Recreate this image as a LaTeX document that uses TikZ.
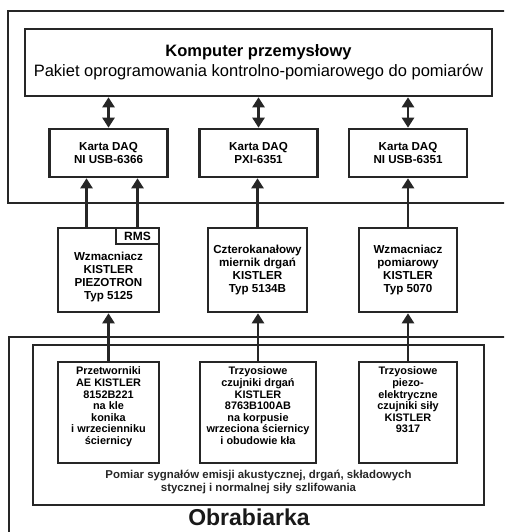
\documentclass[tikz,border=0pt]{standalone}
\usepackage{fontspec}
\setmainfont{Liberation Sans}
\usetikzlibrary{arrows.meta,calc}
\tikzset{
	ramka/.style={draw=black!85, line width=2.6pt},
	blok/.style={ramka, align=center, inner sep=0pt,
		font=\bfseries\fontsize{11.6}{12.9}\selectfont},
	strzalka/.style={draw=black!85, line width=2.4pt, -{Triangle[width=12pt,length=10pt]}},
	dwustronna/.style={draw=black!85, line width=2.4pt,
		{Triangle[width=12pt,length=10pt]}-{Triangle[width=12pt,length=10pt]}}
}
\def\Blok#1#2#3#4#5#6{%
	\node[blok, minimum width=#4, minimum height=#5] (#1) at (#2,#3) {#6};
}
\def\Czujnik#1#2#3#4{%
	\node[blok, minimum height=101pt, font=\bfseries\fontsize{10.9}{11.6}\selectfont]
		(#1) at (#2,412.5) {\parbox[c][91pt][t]{#3}{\centering #4}};
}
\begin{document}
\begin{tikzpicture}[x=1pt,y=-1pt]
\useasboundingbox (0,0) rectangle (504,532);
\clip (0,0) rectangle (504,532);
\draw[ramka] (8,11) rectangle (520,203);
\draw[ramka] (9,337) rectangle (520,550);
\draw[ramka, line width=2pt] (33,345) rectangle (484,505);

\node[ramka, minimum width=467pt, minimum height=67pt, align=center,
	font=\fontsize{16.5}{20}\selectfont] (komp) at (258.5,62.5)
	{\textbf{Komputer przemysłowy}\\Pakiet oprogramowania kontrolno-pomiarowego do pomiarów};

\Blok{daqA}{108.5}{153}{118pt}{48pt}{Karta DAQ\\NI USB-6366}
\Blok{daqB}{258.5}{153}{118pt}{48pt}{Karta DAQ\\PXI-6351}
\Blok{daqC}{408}{153}{118pt}{48pt}{Karta DAQ\\NI USB-6351}

\Blok{wzmA}{108.5}{270}{101pt}{84pt}{\rule{0pt}{22pt}Wzmacniacz\\KISTLER\\PIEZOTRON\\Typ 5125}
\Blok{wzmB}{257.5}{270}{99pt}{84pt}{Czterokanałowy\\miernik drgań\\KISTLER\\Typ 5134B}
\Blok{wzmC}{408}{270}{98pt}{84pt}{Wzmacniacz\\pomiarowy\\KISTLER\\Typ 5070}
\node[blok, fill=white, minimum width=43pt, minimum height=16pt, anchor=north east,
	font=\bfseries\fontsize{12}{12}\selectfont] (rms) at (wzmA.north east) {RMS};

\Czujnik{czA}{108.5}{101pt}{Przetworniki\\AE KISTLER\\8152B221\\na kle\\konika\\i wrzecienniku\\ściernicy}
\Czujnik{czB}{258}{116pt}{Trzyosiowe\\czujniki drgań\\KISTLER\\8763B100AB\\na korpusie\\wrzeciona ściernicy\\i obudowie kła}
\Czujnik{czC}{408}{98pt}{Trzyosiowe\\piezo-\\elektryczne\\czujniki siły\\KISTLER\\9317}

\node[align=center, text=black!85, font=\bfseries\fontsize{11.4}{12.2}\selectfont] (opis) at (258.5,482)
	{Pomiar sygnałów emisji akustycznej, drgań, składowych\\stycznej i normalnej siły szlifowania};
\node[text=black!90, font=\bfseries\fontsize{23}{26}\selectfont] (obr) at (249,517) {Obrabiarka};

\draw[dwustronna] (komp.south -| daqA.north) -- (daqA.north);
\draw[dwustronna] (komp.south -| daqB.north) -- (daqB.north);
\draw[dwustronna] (komp.south -| daqC.north) -- (daqC.north);

\draw[strzalka] ($(wzmA.north)+(-22,0)$) -- ($(daqA.south)+(-22,0)$);
\draw[strzalka] (rms.north) -- (rms.north |- daqA.south);
\draw[strzalka] (wzmB.north) -- (wzmB.north |- daqB.south);
\draw[strzalka] (wzmC.north) -- (wzmC.north |- daqC.south);

\draw[strzalka] (czA.north) -- (czA.north |- wzmA.south);
\draw[strzalka] (czB.north) -- (czB.north |- wzmB.south);
\draw[strzalka] (czC.north) -- (czC.north |- wzmC.south);
\end{tikzpicture}
\end{document}
